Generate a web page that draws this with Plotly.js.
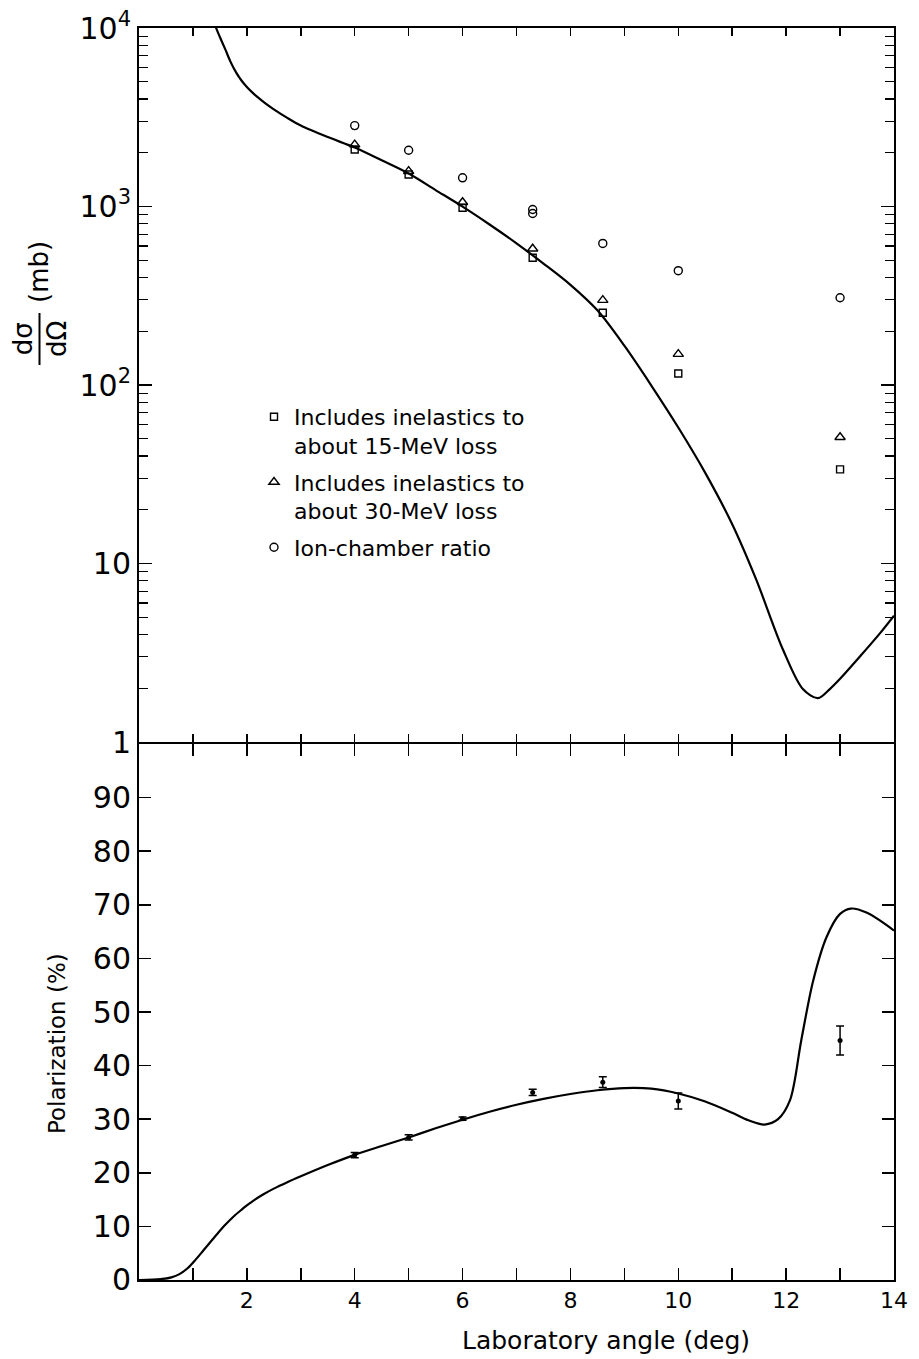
<!DOCTYPE html>
<html>
<head>
<meta charset="utf-8">
<script src="https://cdn.plot.ly/plotly-3.0.1.min.js"></script>
<style>html,body{margin:0;padding:0;background:#fff;}</style>
</head>
<body>
<div id="chart" style="width:919px;height:1359px;"></div>
<script>
// ---- Top panel: differential cross section (mb/sr) ----
const curveAngleTop = [1.38, 1.43, 1.5, 1.6, 1.7, 1.8, 1.9, 2.0, 2.1, 2.2, 2.35, 2.5, 2.75, 3.0, 3.5, 4.0, 4.5, 5.0, 5.5, 6.0, 6.5, 7.0, 7.5, 8.0, 8.5, 9.0, 9.5, 10.0, 10.5, 11.0, 11.44, 11.94, 12.31, 12.59, 12.81, 13.0, 13.38, 13.75, 14.0];
const curveSigma     = [11200, 10000, 8900, 7590, 6440, 5643, 5080, 4675, 4360, 4095, 3766, 3499, 3136, 2844, 2449, 2139, 1814, 1530, 1236, 998, 793, 622, 479, 364, 262, 166, 99.3, 57.8, 32.2, 16.6, 8.2, 3.3, 1.98, 1.76, 1.98, 2.26, 3.04, 4.1, 5.1];

const angleSquare   = [4, 5, 6, 7.3, 8.6, 10, 13];
const sigmaSquare   = [2085, 1510, 984, 516, 254, 116, 33.7];
const angleTriangle = [4, 5, 6, 7.3, 8.6, 10, 13];
const sigmaTriangle = [2223, 1577, 1057, 580, 299, 149, 51];
const angleCircle   = [4, 5, 6, 7.3, 7.3, 8.6, 10, 13];
const sigmaCircle   = [2840, 2065, 1448, 962, 914, 621, 437, 308];

const legendNames = [
  "Includes inelastics to<br>about 15-MeV loss",
  "Includes inelastics to<br>about 30-MeV loss",
  "Ion-chamber ratio"
];

// ---- Bottom panel: polarization (%) ----
const curveAngleBot = [0, 0.4, 0.6, 0.75, 0.9, 1.05, 1.2, 1.45, 1.6, 1.76, 1.9, 2.0, 2.15, 2.3, 2.5, 2.75, 3.0, 3.5, 4.0, 4.5, 5.0, 5.5, 6.0, 6.5, 7.0, 7.5, 8.0, 8.5, 9.0, 9.5, 10.0, 10.5, 11.0, 11.3, 11.6, 11.85, 12.07, 12.28, 12.5, 12.75, 13.0, 13.2, 13.5, 14.0];
const curvePol      = [0, 0.15, 0.5, 1.1, 2.2, 3.8, 5.6, 8.6, 10.3, 11.9, 13.1, 13.9, 15.0, 15.95, 17.05, 18.25, 19.35, 21.45, 23.35, 25.0, 26.6, 28.3, 29.9, 31.4, 32.7, 33.8, 34.7, 35.4, 35.8, 35.7, 34.8, 33.3, 31.2, 29.8, 29.0, 30.0, 33.5, 44.7, 55.8, 64.0, 68.3, 69.3, 68.5, 65.2];

const anglePol = [4, 5, 6, 7.3, 8.6, 10, 13];
const pol      = [23.3, 26.6, 30.1, 35.0, 36.9, 33.4, 44.7];
const polErr   = [0.5, 0.5, 0.3, 0.6, 1.0, 1.5, 2.7];

// ---- Tick labels ----
const xTickVals = [2, 4, 6, 8, 10, 12, 14];
const xTickText = ["2", "4", "6", "8", "10", "12", "14"];
const xMinorVals = [1, 3, 5, 7, 9, 11, 13];
const xAllTicks = [0,1,2,3,4,5,6,7,8,9,10,11,12,13,14];
const logTickVals = [1, 10, 100, 1000, 10000];
const logTickText = ["1", "10", "10<sup>2</sup>", "10<sup>3</sup>", "10<sup>4</sup>"];
const polTickVals = [0,10,20,30,40,50,60,70,80,90];
const polTickText = ["0","10","20","30","40","50","60","70","80","90"];

const minorLog = [];
for (let d = 1; d <= 1000; d *= 10) for (let k = 2; k <= 9; k++) minorLog.push(k * d);

const FONT = "DejaVu Sans";
const BLACK = "#000";

const traces = [
  {x: curveAngleTop, y: curveSigma, xaxis: "x2", yaxis: "y2", mode: "lines",
   line: {color: BLACK, width: 2.2, shape: "spline", smoothing: 0.9}, showlegend: false, hoverinfo: "skip"},
  {x: angleSquare, y: sigmaSquare, xaxis: "x2", yaxis: "y2", mode: "markers", name: legendNames[0], legendgroup: "a",
   marker: {symbol: "square-open", size: 7, color: BLACK, line: {width: 1.4, color: BLACK}}},
  {x: angleTriangle, y: sigmaTriangle, xaxis: "x2", yaxis: "y2", mode: "markers", name: legendNames[1], legendgroup: "b",
   marker: {symbol: "triangle-up-open", size: 9, color: BLACK, line: {width: 1.4, color: BLACK}}},
  {x: angleCircle, y: sigmaCircle, xaxis: "x2", yaxis: "y2", mode: "markers", name: legendNames[2], legendgroup: "c",
   marker: {symbol: "circle-open", size: 8, color: BLACK, line: {width: 1.4, color: BLACK}}},
  {x: curveAngleBot, y: curvePol, xaxis: "x", yaxis: "y", mode: "lines",
   line: {color: BLACK, width: 2.2, shape: "spline", smoothing: 0.9}, showlegend: false, hoverinfo: "skip"},
  {x: anglePol, y: pol, xaxis: "x", yaxis: "y", mode: "markers", showlegend: false,
   marker: {symbol: "circle", size: 5, color: BLACK},
   error_y: {type: "data", array: polErr, visible: true, width: 4, thickness: 1.5, color: BLACK}}
];

const axCommon = {
  showline: true, linewidth: 2, linecolor: BLACK, mirror: "ticks",
  ticks: "inside", tickcolor: BLACK, tickwidth: 1.5,
  showgrid: false, zeroline: false, fixedrange: true
};

const pxX = px => (px - 139) / 755;
const pxY = py => (1280 - py) / 1252;
const split = 0.4289;
const onePx = 1 / 1252;

const layout = {
  width: 919, height: 1359, autosize: false,
  margin: {l: 139, r: 25, t: 28, b: 79},
  paper_bgcolor: "#fff", plot_bgcolor: "#fff",
  font: {family: FONT, color: BLACK},
  showlegend: true,
  legend: {x: pxX(254), y: pxY(396), xanchor: "left", yanchor: "top",
           font: {family: FONT, size: 22, color: BLACK}, valign: "top",
           traceorder: "grouped", tracegroupgap: 5, bgcolor: "rgba(0,0,0,0)", borderwidth: 0},
  xaxis: Object.assign({}, axCommon, {domain: [0, 1], range: [0, 14], anchor: "y",
           tickmode: "array", tickvals: xTickVals, ticktext: xTickText, ticklen: 12,
           tickfont: {family: FONT, size: 22, color: BLACK},
           minor: {tickmode: "array", tickvals: xMinorVals, ticklen: 12, tickwidth: 1.5, tickcolor: BLACK, ticks: "inside", showgrid: false}}),
  yaxis: Object.assign({}, axCommon, {domain: [0, split - onePx], range: [0, 100], anchor: "x",
           tickmode: "array", tickvals: polTickVals, ticktext: polTickText, ticklen: 12,
           tickfont: {family: FONT, size: 30, color: BLACK}}),
  xaxis2: Object.assign({}, axCommon, {domain: [0, 1], range: [0, 14], anchor: "y2", matches: "x",
           tickmode: "array", tickvals: xAllTicks, showticklabels: false, ticklen: 8}),
  yaxis2: Object.assign({}, axCommon, {domain: [split + onePx, 1], type: "log", range: [0, 4], anchor: "x2",
           tickmode: "array", tickvals: logTickVals, ticktext: logTickText, ticklen: 13,
           tickfont: {family: FONT, size: 30, color: BLACK},
           minor: {tickmode: "array", tickvals: minorLog, ticklen: 9, tickwidth: 1.3, tickcolor: BLACK, ticks: "inside", showgrid: false}}),
  annotations: [
    {text: "Polarization (%)", xref: "paper", yref: "paper", x: pxX(57), y: pxY(1044), textangle: -90,
     showarrow: false, xanchor: "center", yanchor: "middle", font: {family: FONT, size: 23, color: BLACK}},
    {text: "(mb)", xref: "paper", yref: "paper", x: pxX(39), y: pxY(272), textangle: -90,
     showarrow: false, xanchor: "center", yanchor: "middle", font: {family: FONT, size: 26, color: BLACK}},
    {text: "dσ<br>dΩ", xref: "paper", yref: "paper", x: pxX(40), y: pxY(339), textangle: -90, align: "center",
     showarrow: false, xanchor: "center", yanchor: "middle", font: {family: FONT, size: 26, color: BLACK}},
    {text: "Laboratory angle (deg)", xref: "paper", yref: "paper", x: pxX(606), y: pxY(1340),
     showarrow: false, xanchor: "center", yanchor: "middle", font: {family: FONT, size: 25, color: BLACK}}
  ],
  shapes: [
    {type: "line", xref: "paper", yref: "paper", x0: pxX(39.5), x1: pxX(39.5), y0: pxY(313), y1: pxY(365),
     line: {color: BLACK, width: 2}}
  ]
};

Plotly.newPlot("chart", traces, layout, {staticPlot: true, displayModeBar: false});
</script>
</body>
</html>
